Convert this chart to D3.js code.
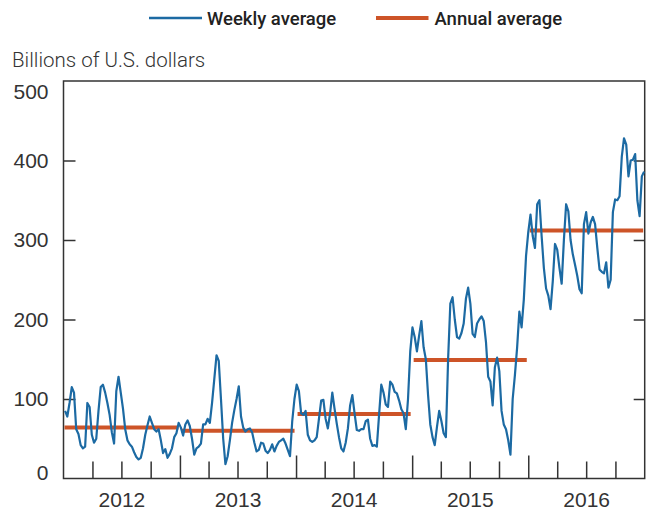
<!DOCTYPE html>
<meta charset="utf-8">
<style>
body { margin: 0; background: #fff; }
svg { font-family: Roboto, "Noto Sans", sans-serif; }
.axis text { font-size: 21px; font-weight: 300; fill: #333; }
.axis path, .axis line { stroke: #333; stroke-width: 1.5; }
</style>
<script src="https://cdnjs.cloudflare.com/ajax/libs/d3/7.8.5/d3.min.js"></script>
<svg width="646" height="510"></svg>
<script>
// weekly averages, billions of U.S. dollars, one value per week (Fridays, from 6 Jan 2012)
var firstWeek = "2012-01-06";
var weekly2012 = [85, 78, 95, 115, 108, 62, 56, 42, 38, 40, 95, 90, 55, 45, 50, 85, 115, 118, 108, 95,
  80, 58, 44, 110, 128, 108, 88, 62, 48, 43, 40, 33, 27, 24, 26, 38, 55, 67, 78, 70,
  62, 59, 62, 48, 32, 37, 26, 31, 38, 52, 57, 70];
var weekly2013 = [64, 54, 68, 73, 66, 50, 30, 38, 40, 44, 68, 68, 75, 70, 95, 125, 155, 148, 100, 50,
  18, 28, 48, 70, 86, 100, 116, 78, 64, 59, 62, 63, 58, 45, 34, 36, 45, 44, 35, 32,
  36, 43, 34, 41, 46, 48, 50, 44, 36, 28, 72, 100];
var weekly2014 = [118, 110, 82, 80, 85, 55, 48, 46, 48, 52, 75, 98, 99, 75, 63, 82, 108, 88, 69, 52,
  38, 34, 45, 63, 92, 105, 82, 61, 60, 62, 62, 72, 74, 50, 41, 42, 40, 80, 118, 108,
  93, 90, 122, 118, 109, 107, 98, 87, 82, 62, 100, 160];
var weekly2015 = [190, 178, 160, 180, 198, 165, 150, 105, 68, 52, 42, 65, 85, 72, 57, 52, 150, 220, 228, 200,
  178, 176, 183, 195, 226, 240, 220, 182, 178, 195, 200, 204, 198, 172, 128, 122, 92, 140, 152, 135,
  85, 68, 62, 48, 30, 100, 130, 165, 210, 190, 225, 280];
var weekly2016 = [310, 332, 305, 290, 345, 350, 305, 265, 239, 230, 213, 248, 295, 288, 265, 245, 300, 345, 336, 300,
  282, 269, 255, 238, 233, 320, 335, 308, 322, 329, 320, 290, 263, 260, 258, 272, 240, 250, 335, 351,
  350, 355, 405, 428, 420, 380, 400, 401, 408, 350, 330, 380, 386];

var years = [2012, 2013, 2014, 2015, 2016];
var annualAverage = [64, 60, 81, 149, 312];
var yTicks = [0, 100, 200, 300, 400, 500];

var svg = d3.select("svg");
var blue = "#1c6aa3", orange = "#cd5428";

var x = d3.scaleTime()
    .domain([new Date(2012, 0, 1), new Date(2017, 0, 1)])
    .range([63.5, 644.7]);
var y = d3.scaleLinear()
    .domain([0, 500])
    .range([478.5, 81]);

var start = d3.timeParse("%Y-%m-%d")(firstWeek);
var weekly = [].concat(weekly2012, weekly2013, weekly2014, weekly2015, weekly2016)
    .map(function(v, i) { return {date: d3.timeDay.offset(start, 7 * i), value: v}; });

// frame
svg.append("rect")
    .attr("x", x.range()[0]).attr("y", y(500))
    .attr("width", x.range()[1] - x.range()[0])
    .attr("height", y(0) - y(500))
    .attr("fill", "none").attr("stroke", "#333").attr("stroke-width", 1.5);

// y axis, ticks pointing inside
var yAxis = svg.append("g").attr("class", "axis")
    .attr("transform", "translate(" + x.range()[0] + ",0)")
    .call(d3.axisLeft(y).tickValues(yTicks).tickSize(-12).tickPadding(15));
yAxis.select(".domain").remove();
yAxis.selectAll(".tick text")
    .attr("dy", function(d) { return d == 0 ? "0.03em" : d == 500 ? "0.82em" : "0.32em"; });
yAxis.selectAll(".tick line").filter(function(d) { return d == 0 || d == 500; }).remove();

svg.append("g").attr("class", "axis")
    .attr("transform", "translate(" + x.range()[1] + ",0)")
    .call(d3.axisRight(y).tickValues([100, 200, 300, 400]).tickSize(-11).tickFormat(""))
  .select(".domain").remove();

// quarterly ticks along the bottom, longer at year boundaries
var quarters = d3.timeMonth.every(3).range(new Date(2012, 3, 1), new Date(2017, 0, 1));
var xTicks = svg.append("g").attr("class", "axis")
    .attr("transform", "translate(0," + y(0) + ")")
    .call(d3.axisBottom(x).tickValues(quarters).tickSize(-17).tickFormat(""));
xTicks.select(".domain").remove();
xTicks.selectAll(".tick line")
    .attr("y2", function(d) { return d.getMonth() == 0 ? -23 : -17; });

// year labels centred in each year
var xLabels = svg.append("g").attr("class", "axis")
    .attr("transform", "translate(0," + y(0) + ")")
    .call(d3.axisBottom(x)
      .tickValues(years.map(function(yr) { return new Date(yr, 6, 1); }))
      .tickSize(0).tickPadding(13.5)
      .tickFormat(d3.timeFormat("%Y")));
xLabels.select(".domain").remove();

// annual averages
svg.append("g").selectAll("line")
    .data(years)
  .enter().append("line")
    .attr("x1", function(d) { return x(new Date(d, 0, 1)) + (d == 2012 ? 1 : 1.5); })
    .attr("x2", function(d) { return x(new Date(d + 1, 0, 1)) - 1.5; })
    .attr("y1", function(d, i) { return y(annualAverage[i]); })
    .attr("y2", function(d, i) { return y(annualAverage[i]); })
    .attr("stroke", orange).attr("stroke-width", 4);

// weekly line
svg.append("path")
    .datum(weekly)
    .attr("fill", "none")
    .attr("stroke", blue)
    .attr("stroke-width", 2.2)
    .attr("stroke-linejoin", "round")
    .attr("d", d3.line()
      .x(function(d) { return x(d.date); })
      .y(function(d) { return y(d.value); }));

// unit label
svg.append("text")
    .attr("x", 12).attr("y", 67)
    .attr("font-size", 20.5).attr("font-weight", 300).attr("fill", "#333")
    .text("Billions of U.S. dollars");

// legend
var legend = [
  {label: "Weekly average", color: blue, width: 2.5, x1: 149, x2: 202, tx: 207},
  {label: "Annual average", color: orange, width: 4, x1: 376, x2: 428.5, tx: 434.5}
];
var lg = svg.append("g").selectAll("g").data(legend).enter().append("g");
lg.append("line")
    .attr("x1", function(d) { return d.x1; }).attr("x2", function(d) { return d.x2; })
    .attr("y1", 18).attr("y2", 18)
    .attr("stroke", function(d) { return d.color; })
    .attr("stroke-width", function(d) { return d.width; });
lg.append("text")
    .attr("x", function(d) { return d.tx; }).attr("y", 24.5)
    .attr("font-size", 18.5).attr("font-weight", 500).attr("fill", "#222")
    .text(function(d) { return d.label; });
</script>
